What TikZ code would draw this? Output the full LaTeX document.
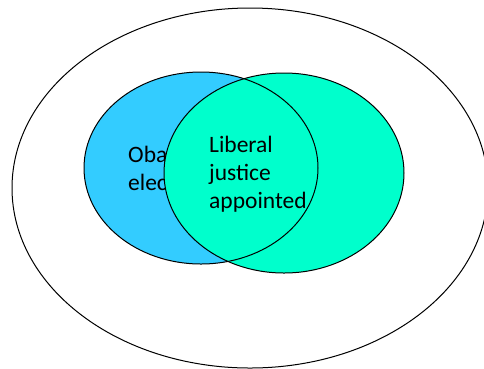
\documentclass[tikz,border=0pt]{standalone}
\usepackage{fontspec}
\setmainfont{Carlito}
\definecolor{setblue}{HTML}{33CCFF}
\definecolor{setgreen}{HTML}{00FFCC}
\begin{document}
\begin{tikzpicture}[x=1pt,y=-1pt,
  setline/.style={draw=black,line width=1pt},
  lbl/.style={font=\fontsize{23.5}{28}\selectfont,anchor=base west,inner sep=0pt,align=left}]
\useasboundingbox (0,0) rectangle (484,368);
\begin{scope}
\clip (0,0) rectangle (484,368);
\draw[setline] (250,188) ellipse [x radius=238, y radius=180];
\end{scope}
\fill[setblue] (201,168) ellipse [x radius=117, y radius=96];
\node[lbl] (obama) at (128,162) {Obama};
\node[lbl] (elected) at (128,190) {elected};
\fill[setgreen] (284,173) ellipse [x radius=120, y radius=100];
\draw[setline] (284,173) ellipse [x radius=120, y radius=100];
\draw[setline] (201,168) ellipse [x radius=117, y radius=96];
\node[lbl] (liberal) at (209,152) {Liberal};
\node[lbl] (justice) at (209,180) {justice};
\node[lbl] (appointed) at (209,208) {appointed};
\end{tikzpicture}
\end{document}
